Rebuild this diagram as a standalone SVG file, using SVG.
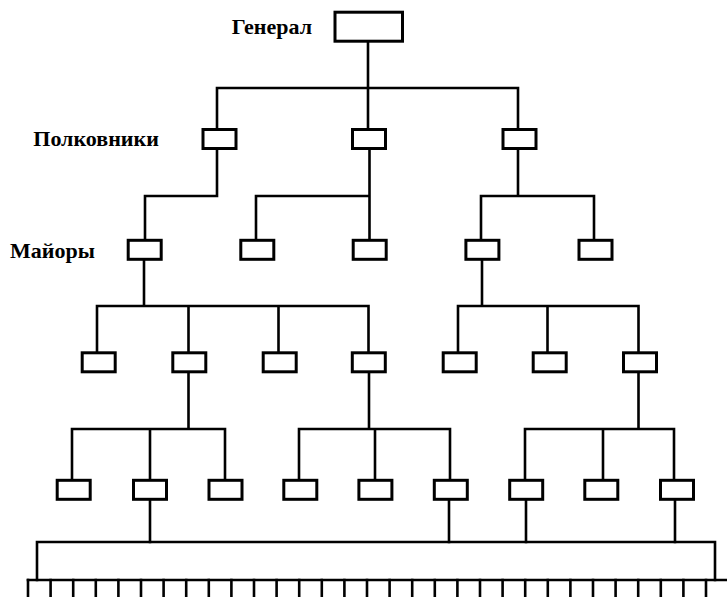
<svg xmlns="http://www.w3.org/2000/svg" width="727" height="597" viewBox="0 0 727 597">
<style>
.box{fill:#fff;stroke:#000;stroke-width:3}
.ln{fill:none;stroke:#000;stroke-width:2.6;stroke-linejoin:miter;stroke-linecap:square}
.lbl{font-family:"Liberation Serif","Times New Roman",serif;font-size:22px;font-weight:bold;fill:#000}
</style>
<rect width="727" height="597" fill="#fff"/>
<g id="connectors" class="ln">
<path d="M368 42V128M217 128V88H518V128"/>
<path d="M217 150V196H145V239"/>
<path d="M369.5 150V239M256 239V196H369.5"/>
<path d="M518 150V196M481 239V196H594V239"/>
<path d="M144 261V306M97 352V306H368.5V352M188.5 306V352M278.5 306V352"/>
<path d="M482 261V306M458 352V306H638.5V352M547.5 306V352"/>
<path d="M188.5 373V429M72 479V429H225V479M150 429V479"/>
<path d="M369 373V429M299 479V429H450V479M375 429V479"/>
<path d="M638.5 373V429M525 479V429H674V479M603 429V479"/>
<path d="M150 501V542M449 501V542M526 501V542M675 501V542"/>
<path d="M37 580V542H715V580"/>
<path d="M28 580H727"/>
<path d="M28 580V597M50.6 580V597M73.2 580V597M95.8 580V597M118.4 580V597M141 580V597M163.6 580V597M186.2 580V597M208.8 580V597M231.4 580V597M254 580V597M276.6 580V597M299.2 580V597M321.8 580V597M344.4 580V597M367 580V597M389.6 580V597M412.2 580V597M434.8 580V597M457.4 580V597M480 580V597M502.6 580V597M525.2 580V597M547.8 580V597M570.4 580V597M593 580V597M615.6 580V597M638.2 580V597M660.8 580V597M683.4 580V597M706 580V597"/>
</g>
<g id="labels">
<text class="lbl" x="231.7" y="34.3">Генерал</text>
<text class="lbl" x="33.3" y="145.7">Полковники</text>
<text class="lbl" x="10" y="257.7">Майоры</text>
</g>
<g id="general"><rect class="box" x="335" y="12.2" width="67.5" height="29"/></g>
<g id="colonel1"><rect class="box" x="203" y="129.5" width="33" height="19"/></g>
<g id="colonel2"><rect class="box" x="352.5" y="129.5" width="33" height="19"/></g>
<g id="colonel3"><rect class="box" x="503" y="129.5" width="33" height="19"/></g>
<g id="major1"><rect class="box" x="128.2" y="240.3" width="33" height="19"/></g>
<g id="major2"><rect class="box" x="240.8" y="240.3" width="33" height="19"/></g>
<g id="major3"><rect class="box" x="353.2" y="240.3" width="33" height="19"/></g>
<g id="major4"><rect class="box" x="465.9" y="240.3" width="33" height="19"/></g>
<g id="major5"><rect class="box" x="579" y="240.3" width="33" height="19"/></g>
<g id="captain1"><rect class="box" x="82.2" y="352.8" width="33" height="19"/></g>
<g id="captain2"><rect class="box" x="172.8" y="352.8" width="33" height="19"/></g>
<g id="captain3"><rect class="box" x="263.2" y="352.8" width="33" height="19"/></g>
<g id="captain4"><rect class="box" x="352.3" y="352.8" width="33" height="19"/></g>
<g id="captain5"><rect class="box" x="443.2" y="352.8" width="33" height="19"/></g>
<g id="captain6"><rect class="box" x="533.2" y="352.8" width="33" height="19"/></g>
<g id="captain7"><rect class="box" x="623.5" y="352.8" width="33" height="19"/></g>
<g id="lt1"><rect class="box" x="57.2" y="480.3" width="33" height="19"/></g>
<g id="lt2"><rect class="box" x="133.5" y="480.3" width="33" height="19"/></g>
<g id="lt3"><rect class="box" x="209" y="480.3" width="33" height="19"/></g>
<g id="lt4"><rect class="box" x="283.8" y="480.3" width="33" height="19"/></g>
<g id="lt5"><rect class="box" x="358.9" y="480.3" width="33" height="19"/></g>
<g id="lt6"><rect class="box" x="434.3" y="480.3" width="33" height="19"/></g>
<g id="lt7"><rect class="box" x="509.7" y="480.3" width="33" height="19"/></g>
<g id="lt8"><rect class="box" x="584.8" y="480.3" width="33" height="19"/></g>
<g id="lt9"><rect class="box" x="660.5" y="480.3" width="33" height="19"/></g>
</svg>
